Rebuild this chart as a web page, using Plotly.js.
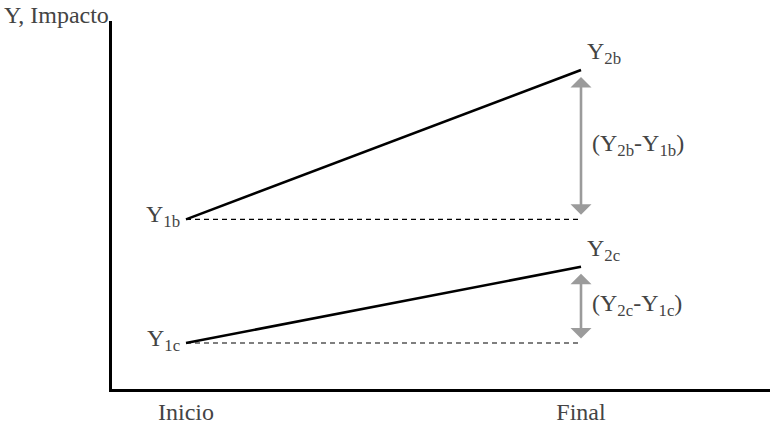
<html>
<head>
<script src="https://cdn.plot.ly/plotly-3.0.1.min.js"></script>
</head>
<body style="margin:0">
<div id="chart" style="width:773px;height:423px"></div>
<script>
// Time points (x) and their tick labels
var periods = [1, 5];
var periodLabels = ["Inicio", "Final"];
// Outcome values (Y, Impacto)
var groupB = [4.61, 8.67];   // Y1b, Y2b
var groupC = [1.25, 3.32];   // Y1c, Y2c
var labelsB = ["Y<sub>1b</sub>", "Y<sub>2b</sub>"];
var labelsC = ["Y<sub>1c</sub>", "Y<sub>2c</sub>"];
var diffLabels = ["(Y<sub>2b</sub>-Y<sub>1b</sub>)", "(Y<sub>2c</sub>-Y<sub>1c</sub>)"];
var yTitle = "Y, Impacto";

var GRAY = "#9b9b9b";
function mkFont() { return {family: "Liberation Serif", size: 24}; }

var traces = [
  {x: periods, y: groupB, mode: "lines", line: {color: "#000", width: 2.6}, hoverinfo: "skip"},
  {x: periods, y: [groupB[0], groupB[0]], mode: "lines", line: {color: "#000", width: 1.2, dash: "5px,4px"}, hoverinfo: "skip"},
  {x: periods, y: groupC, mode: "lines", line: {color: "#000", width: 2.6}, hoverinfo: "skip"},
  {x: periods, y: [groupC[0], groupC[0]], mode: "lines", line: {color: "#000", width: 1.2, dash: "5px,4px"}, hoverinfo: "skip"}
];

function arrow(yTop, yBottom) {
  return {
    x: periods[1], y: yTop, xref: "x", yref: "y",
    ax: periods[1], ay: yBottom, axref: "x", ayref: "y",
    text: "", showarrow: true, arrowside: "end+start",
    arrowhead: 1, startarrowhead: 1,
    arrowsize: 1.35, startarrowsize: 1.35,
    arrowwidth: 2.6, arrowcolor: GRAY,
    standoff: 7, startstandoff: 3
  };
}

function label(x, y, text, xa, ya, xs, ys) {
  return {x: x, y: y, text: text, showarrow: false, xanchor: xa, yanchor: ya, xshift: xs, yshift: ys, font: mkFont()};
}

var annotations = [
  label(periods[0], groupB[0], labelsB[0], "right", "middle", -4, 3),
  label(periods[1], groupB[1], labelsB[1], "left", "bottom", 4, 0),
  label(periods[0], groupC[0], labelsC[0], "right", "middle", -4, 3),
  label(periods[1], groupC[1], labelsC[1], "left", "bottom", 4, 0),
  label(periods[1], (groupB[0] + groupB[1]) / 2, diffLabels[0], "left", "middle", 9, 0),
  label(periods[1], (groupC[0] + groupC[1]) / 2, diffLabels[1], "left", "middle", 9, 0),
  {x: 0, y: 1, xref: "paper", yref: "paper", text: yTitle, showarrow: false, xanchor: "right", yanchor: "middle", xshift: -1, yshift: 6, font: mkFont()},
  arrow(groupB[1], groupB[0]),
  arrow(groupC[1], groupC[0])
];

var layout = {
  width: 773, height: 423,
  margin: {l: 112, r: 3, t: 21, b: 34, pad: 0},
  paper_bgcolor: "#fff", plot_bgcolor: "#fff",
  showlegend: false,
  xaxis: {
    range: [0.2506, 6.914], showgrid: false, zeroline: false,
    showline: true, linecolor: "#000", linewidth: 2.6,
    tickmode: "array", tickvals: periods, ticktext: periodLabels,
    ticks: "", ticklabelstandoff: 0, tickfont: mkFont()
  },
  yaxis: {
    range: [0, 10], showgrid: false, zeroline: false,
    showline: true, linecolor: "#000", linewidth: 2.6,
    showticklabels: false, ticks: ""
  },
  annotations: annotations
};

Plotly.newPlot("chart", traces, layout, {staticPlot: true});
</script>
</body>
</html>
